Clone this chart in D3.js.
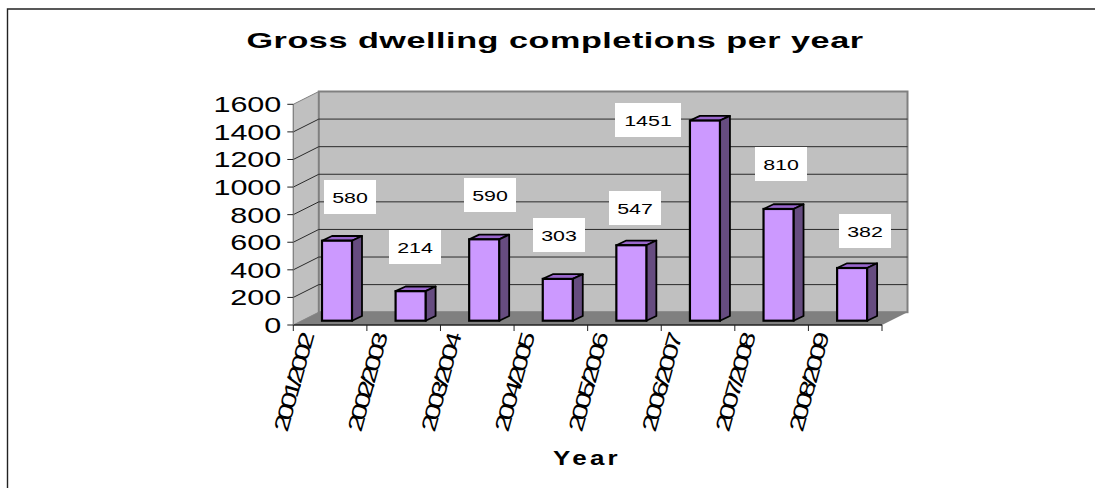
<!DOCTYPE html>
<html>
<head>
<meta charset="utf-8">
<script src="https://cdn.jsdelivr.net/npm/d3@7"></script>
<style>
html,body{margin:0;padding:0;background:#fff;overflow:hidden}
svg{display:block}
text{font-family:"Liberation Sans",Arial,sans-serif;fill:#000}
</style>
</head>
<body>
<svg id="c" width="1095" height="488"></svg>
<script>
const categories = ["2001/2002","2002/2003","2003/2004","2004/2005","2005/2006","2006/2007","2007/2008","2008/2009"];
const completions = [580,214,590,303,547,1451,810,382];
const yTicks = [0,200,400,600,800,1000,1200,1400,1600];
const chartTitle = "Gross dwelling completions per year";
const xTitle = "Year";

// hand-placed data label anchors in the source chart
const labelCentreX = [350,415,490,559,635,648,781,865];
const labelCentreY = [197,247,195,235,208,120,164,231];

const svg = d3.select("#c");
const x = d3.scaleBand().domain(categories).range([293.3,882]).paddingInner(0).paddingOuter(0);
const y = d3.scaleLinear().domain([0,1600]).range([325,104.3]);
const depth = {dx:25.5, dy:-12.8};
const barDepth = {dx:10, dy:-4.7};
const barOffset = {dx:28.7, dy:-4.3};
const barW = 30;

// frame
svg.append("path").attr("d","M7.5,488V9H1095").attr("fill","none").attr("stroke","#222").attr("stroke-width",1.4);

// walls
const [x0,x1] = x.range();
const yb = y(0), yt = y(1600);
svg.append("path").attr("d",`M${x0},${yb}L${x0+depth.dx},${yb+depth.dy}V${yt+depth.dy}L${x0},${yt}Z`).attr("fill","#c0c0c0").attr("stroke","#808080").attr("stroke-width",1);
svg.append("rect").attr("x",x0+depth.dx).attr("y",yt+depth.dy).attr("width",x1-x0).attr("height",yb-yt)
  .attr("fill","#c0c0c0").attr("stroke","#808080").attr("stroke-width",2);
svg.append("path").attr("d",`M${x0},${yb}L${x0+depth.dx},${yb+depth.dy}H${x1+depth.dx}L${x1},${yb}Z`).attr("fill","#808080");

// gridlines
const grid = yTicks.slice(1,-1);
svg.selectAll(".g").data(grid).join("path").attr("class","g")
  .attr("d",d=>`M${x0},${y(d)}L${x0+depth.dx},${y(d)+depth.dy}H${x1+depth.dx}`)
  .attr("fill","none").attr("stroke","#2a2a2a").attr("stroke-width",1);

// axes
svg.append("path").attr("d",`M${x0},${yb}H${x1}`).attr("stroke","#222").attr("stroke-width",1.4);
svg.append("path").attr("d",`M${x0},${yb}V${yt}`).attr("stroke","#808080").attr("stroke-width",1);
svg.selectAll(".yt").data(yTicks).join("path").attr("class","yt")
  .attr("d",d=>`M${x0-6},${y(d)}H${x0}`).attr("stroke","#222").attr("stroke-width",1);
svg.selectAll(".yl").data(yTicks).join("text").attr("class","yl")
  .attr("transform",d=>`translate(${x0-12},${y(d)+8}) scale(1.42,1)`).attr("text-anchor","end")
  .attr("font-size",21.5).text(d=>d);
const xTickPos = categories.map(c=>x(c)).concat([x1]);
svg.selectAll(".xt").data(xTickPos).join("path").attr("class","xt")
  .attr("d",d=>`M${d},${yb}v6`).attr("stroke","#222").attr("stroke-width",1);

// bars
const bars = svg.selectAll(".bar").data(categories.map((c,i)=>({c,v:completions[i]}))).join("g").attr("class","bar");
const bl = d=>x(d.c)+barOffset.dx;
const by = barOffset.dy;
bars.append("path").attr("d",d=>{
  const l=bl(d), r=l+barW, t=y(d.v)+by;
  return `M${l},${t}l${barDepth.dx},${barDepth.dy}H${r+barDepth.dx}L${r},${t}Z`;
}).attr("fill","#9966cc").attr("stroke","#000").attr("stroke-width",1.8).attr("stroke-linejoin","round");
bars.append("path").attr("d",d=>{
  const r=bl(d)+barW, t=y(d.v)+by, b=y(0)+by;
  return `M${r},${t}l${barDepth.dx},${barDepth.dy}V${b+barDepth.dy}L${r},${b}Z`;
}).attr("fill","#664c80").attr("stroke","#000").attr("stroke-width",1.8).attr("stroke-linejoin","round");
bars.append("rect").attr("x",bl).attr("y",d=>y(d.v)+by).attr("width",barW).attr("height",d=>y(0)-y(d.v))
  .attr("fill","#cc99ff").attr("stroke","#000").attr("stroke-width",2.2);

// data labels
const lab = svg.selectAll(".lab").data(completions).join("g").attr("class","lab")
  .attr("transform",(d,i)=>`translate(${labelCentreX[i]},${labelCentreY[i]})`);
lab.append("rect").attr("x",d=>d>=1000?-33:-26).attr("y",-17).attr("width",d=>d>=1000?66:52).attr("height",34).attr("fill","#fff");
lab.append("text").attr("text-anchor","middle").attr("transform","translate(0,5.5) scale(1.38,1)").attr("font-size",15.5).text(d=>d);

// category labels: stretched, tightly packed as in the source rendering
svg.selectAll(".xl").data(categories).join("text").attr("class","xl")
  .attr("transform",d=>`translate(${x(d)-6},433) rotate(-74.5) scale(1.68,1.15)`)
  .attr("font-size",18).attr("letter-spacing",-3).text(d=>d);

// titles
svg.append("text").attr("transform","translate(555,48) scale(1.52,1)").attr("text-anchor","middle").attr("font-size",22.5).attr("font-weight","bold").attr("letter-spacing",0.35).text(chartTitle);
svg.append("text").attr("transform","translate(587,465) scale(1.3,1)").attr("text-anchor","middle").attr("font-size",20).attr("font-weight","bold").attr("letter-spacing",2.5).text(xTitle);
</script>
</body>
</html>
